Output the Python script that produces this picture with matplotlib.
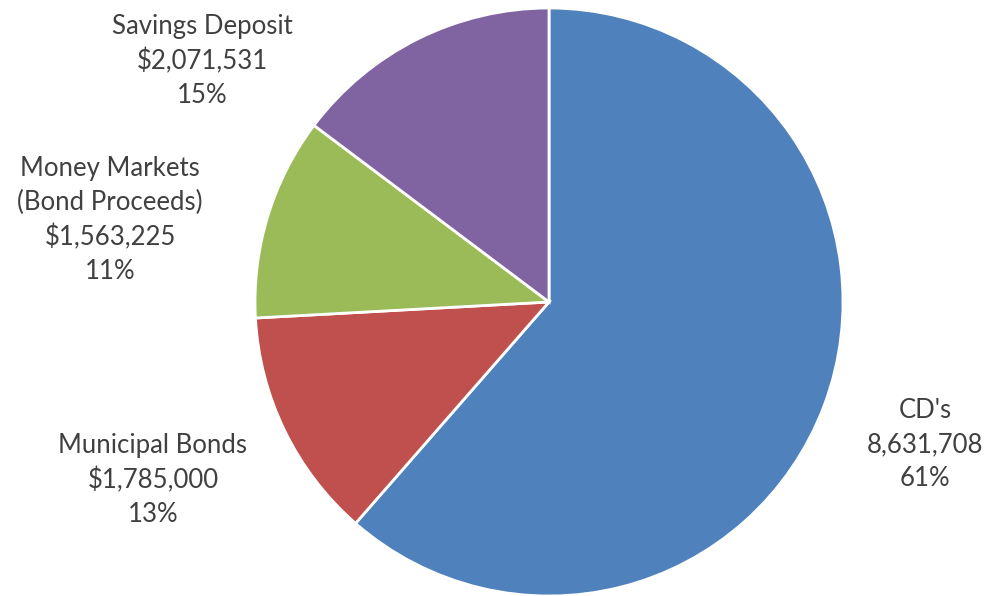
import matplotlib
matplotlib.use("Agg")
import matplotlib.pyplot as plt

categories = ["CD's", "Municipal Bonds", "Money Markets\n(Bond Proceeds)", "Savings Deposit"]
values = [8631708, 1785000, 1563225, 2071531]
value_labels = ["8,631,708", "$1,785,000", "$1,563,225", "$2,071,531"]
colors = ["#4F81BD", "#C0504D", "#9BBB59", "#8064A2"]

W, H = 987, 596
fig = plt.figure(figsize=(W / 100, H / 100), dpi=100)
ax = fig.add_axes([0, 0, 1, 1])

cx, cy, r = 549, H - 302, 294
ax.pie(values, colors=colors, startangle=90, counterclock=False,
       center=(cx, cy), radius=r, frame=True,
       wedgeprops=dict(edgecolor="white", linewidth=2))
ax.set_xlim(0, W)
ax.set_ylim(0, H)
ax.set_aspect("equal")
ax.axis("off")

total = sum(values)
# label centre positions (pixels from top-left)
label_pos = [(925, 445), (153, 480), (110, 220), (202, 61)]
for cat, vl, v, (lx, ly) in zip(categories, value_labels, values, label_pos):
    pct = f"{round(100 * v / total)}%"
    ax.text(lx, H - ly, f"{cat}\n{vl}\n{pct}", ha="center", va="center",
            fontsize=18.5, family="Lato", color="#404040", linespacing=1.45)

fig.savefig("out.png", dpi=100)
